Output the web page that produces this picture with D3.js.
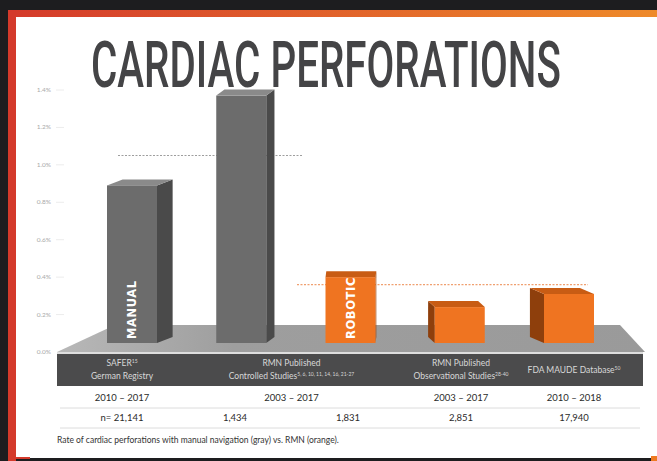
<!DOCTYPE html>
<html><head><meta charset="utf-8">
<script src="https://cdn.jsdelivr.net/npm/d3@7"></script>
<style>
html,body{margin:0;padding:0;background:#1d1d1f;}
svg{display:block;}
</style></head>
<body>
<svg id="chart" width="657" height="461"></svg>
<script>
// ---------- data ----------
const titleText = "CARDIAC PERFORATIONS";
const tickValues = [0, 0.2, 0.4, 0.6, 0.8, 1.0, 1.2, 1.4];
const tickLabels = ["0.0%", "0.2%", "0.4%", "0.6%", "0.8%", "1.0%", "1.2%", "1.4%"];
const barIds = ["safer", "rmnCtrlManual", "rmnCtrlRobotic", "rmnObs", "fdaMaude"];
const barValues = [0.89, 1.37, 0.40, 0.24, 0.31];
const barTypes = ["manual", "manual", "robotic", "robotic", "robotic"];
const barTexts = ["MANUAL", "", "ROBOTIC", "", ""];
const groupLine1 = ["SAFER", "RMN Published", "RMN Published", "FDA MAUDE Database"];
const groupLine1Sup = ["15", "", "", "50"];
const groupLine2 = ["German Registry", "Controlled Studies", "Observational Studies", ""];
const groupLine2Sup = ["", "5, 6, 10, 11, 14, 16, 21-27", "28-40", ""];
const groupBars = [[0], [1, 2], [3], [4]];
const groupYears = ["2010 \u2013 2017", "2003 \u2013 2017", "2003 \u2013 2017", "2010 \u2013 2018"];
const barN = ["n= 21,141", "1,434", "1,831", "2,851", "17,940"];
const avgManual = 1.05;
const avgRobotic = 0.36;
const captionText = "Rate of cardiac perforations with manual navigation (gray) vs. RMN (orange).";

// ---------- setup ----------
const svg = d3.select("#chart");
const W = 657, H = 461;
const defs = svg.append("defs");
const grad = defs.append("linearGradient").attr("id", "frameGrad").attr("x1", "0").attr("x2", "1");
grad.append("stop").attr("offset", "0").attr("stop-color", "#d43a2b");
grad.append("stop").attr("offset", "1").attr("stop-color", "#ee8a2a");
const floorGrad = defs.append("linearGradient").attr("id", "floorGrad").attr("x1", "0").attr("x2", "1");
floorGrad.append("stop").attr("offset", "0").attr("stop-color", "#b8b8b8");
floorGrad.append("stop").attr("offset", "0.3").attr("stop-color", "#9e9e9e");
floorGrad.append("stop").attr("offset", "1").attr("stop-color", "#9a9a9a");

// frame
svg.append("rect").attr("x", 0).attr("y", 0).attr("width", W).attr("height", H).attr("fill", "#1d1d1f");
svg.append("rect").attr("x", 8).attr("y", 10).attr("width", W - 8).attr("height", 7).attr("fill", "url(#frameGrad)");
svg.append("rect").attr("x", 8).attr("y", 10).attr("width", 8).attr("height", H - 10).attr("fill", "#d43a2b");
svg.append("rect").attr("x", 16).attr("y", 17).attr("width", W - 16).attr("height", 441).attr("fill", "#ffffff");
svg.append("rect").attr("x", 16).attr("y", 457).attr("width", 14).attr("height", 2).attr("fill", "#d43a2b");
svg.append("rect").attr("x", 651).attr("y", 456).attr("width", 6).attr("height", 5).attr("fill", "#ee7a22");

// title (condensed by horizontal scaling)
const titleG = svg.append("g");
const titleT = titleG.append("text").text(titleText)
  .attr("x", 0).attr("y", 0)
  .attr("font-family", "Roboto, 'DejaVu Sans Condensed', sans-serif")
  .attr("font-weight", 500).attr("font-size", 64)
  .attr("fill", "#444446");
const natW = titleT.node().getComputedTextLength();
titleG.attr("transform", `translate(91,87) scale(${470 / natW},1)`);

// ---------- scales ----------
const y = d3.scaleLinear().domain([0, 1.4]).range([352, 90]);
const x = d3.scalePoint().domain(barIds).range([132, 569]);
const barW = 50;
const floorInset = 9;           // bars stand back from the floor's front edge
const vpX = 362, depthK = 0.068, topDepth = 6;
const firstC = x(barIds[0]), lastC = x(barIds[barIds.length - 1]);
const tableX = d3.scaleLinear().domain([firstC, lastC]).range([122, 574]);

// y axis labels (very light)
const axisG = svg.append("g");
axisG.selectAll("text").data(tickValues).join("text")
  .attr("x", 51).attr("y", d => y(d) + 2)
  .attr("text-anchor", "end")
  .attr("font-family", "Lato, sans-serif").attr("font-size", 6.5)
  .attr("fill", "#a9a9a9")
  .text((d, i) => tickLabels[i]);
axisG.selectAll("line").data(tickValues.slice(1)).join("line")
  .attr("x1", 56).attr("x2", 64).attr("y1", d => y(d)).attr("y2", d => y(d))
  .attr("stroke", "#ececec").attr("stroke-width", 1);

// floor
const fl = 57, fr = 645, bl = 115, br = 620;
const floorBackY = y(0) - 27;
svg.append("path")
  .attr("d", `M${fl},${y(0)} L${bl},${floorBackY} L${br},${floorBackY} L${fr},${y(0)} Z`)
  .attr("fill", "url(#floorGrad)");

// reference (average) lines
svg.append("line")
  .attr("x1", 118).attr("x2", 303).attr("y1", y(avgManual)).attr("y2", y(avgManual))
  .attr("stroke", "#9e9e9e").attr("stroke-width", 1.2).attr("stroke-dasharray", "2,1.5");
svg.append("line")
  .attr("x1", 297).attr("x2", 588).attr("y1", y(avgRobotic)).attr("y2", y(avgRobotic))
  .attr("stroke", "#f0a070").attr("stroke-width", 1.2).attr("stroke-dasharray", "2,1.5");

// bars (3D boxes)
const colors = {
  manual: { front: "#6c6c6c", side: "#4a4a4a", top: "#8a8a8a" },
  robotic: { front: "#ef7421", side: "#8e3f0c", top: "#c85c14" }
};
const baseY = y(0) - floorInset;
const barsG = svg.append("g");
barIds.forEach((id, i) => {
  const c = x(id);
  const x0 = c - barW / 2, x1 = c + barW / 2;
  const yt = y(barValues[i]);
  const dx = (vpX - c) * depthK, dy = topDepth;
  const col = colors[barTypes[i]];
  const g = barsG.append("g");
  const sx = dx >= 0 ? x1 : x0;
  g.append("path")
    .attr("d", `M${sx},${yt} L${sx + dx},${yt - dy} L${sx + dx},${baseY - dy} L${sx},${baseY} Z`)
    .attr("fill", col.side);
  g.append("path")
    .attr("d", `M${x0},${yt} L${x0 + dx},${yt - dy} L${x1 + dx},${yt - dy} L${x1},${yt} Z`)
    .attr("fill", col.top);
  g.append("rect").attr("x", x0).attr("y", yt).attr("width", barW).attr("height", baseY - yt)
    .attr("fill", col.front);
  if (barTexts[i]) {
    g.append("text").text(barTexts[i])
      .attr("transform", `translate(${c + 4},${baseY - 4}) rotate(-90)`)
      .attr("font-family", "'DejaVu Sans', sans-serif").attr("font-weight", 700)
      .attr("font-size", 11.5).attr("letter-spacing", 0.6)
      .attr("fill", "#ffffff");
  }
});

// floor front edge + dark band
svg.append("rect").attr("x", fl).attr("y", y(0)).attr("width", fr - fl - 2).attr("height", 2).attr("fill", "#dedede");
svg.append("rect").attr("x", fl).attr("y", y(0) + 2).attr("width", fr - fl - 2).attr("height", 32).attr("fill", "#4b4b4c");

// group labels inside band
const groupCenters = groupBars.map(b => tableX(d3.mean(b, j => x(barIds[j]))));
const labG = svg.append("g").attr("font-family", "Lato, 'Open Sans', sans-serif").attr("font-size", 8.5).attr("fill", "#d8d8d8").attr("text-anchor", "middle");
groupLine1.forEach((t, i) => {
  const single = !groupLine2[i];
  const tx = labG.append("text").attr("x", groupCenters[i]).attr("y", single ? y(0) + 21 : y(0) + 14);
  tx.append("tspan").text(t);
  if (groupLine1Sup[i]) tx.append("tspan").text(groupLine1Sup[i]).attr("font-size", 5).attr("dy", -3.5);
  if (!single) {
    const t2 = labG.append("text").attr("x", groupCenters[i]).attr("y", y(0) + 27);
    t2.append("tspan").text(groupLine2[i]);
    if (groupLine2Sup[i]) t2.append("tspan").text(groupLine2Sup[i]).attr("font-size", 5).attr("dy", -3.5);
  }
});

// table rows
const tblG = svg.append("g").attr("font-family", "Lato, 'Open Sans', sans-serif").attr("text-anchor", "middle").attr("fill", "#2b2b2b");
tblG.selectAll("text.yr").data(groupYears).join("text").attr("class", "yr")
  .attr("x", (d, i) => groupCenters[i]).attr("y", 401)
  .attr("font-size", 9.5).text(d => d);
tblG.selectAll("text.n").data(barN).join("text").attr("class", "n")
  .attr("x", (d, i) => tableX(x(barIds[i]))).attr("y", 421)
  .attr("font-size", 9.5).text(d => d);
[408, 428].forEach(ly => {
  svg.append("line").attr("x1", 60).attr("x2", 640).attr("y1", ly).attr("y2", ly)
    .attr("stroke", "#dcdcdc").attr("stroke-width", 1);
});

// caption
svg.append("text").text(captionText)
  .attr("x", 57).attr("y", 443)
  .attr("font-family", "Lato, 'Open Sans', sans-serif").attr("font-size", 8.5)
  .attr("fill", "#333");
</script>
</body></html>
